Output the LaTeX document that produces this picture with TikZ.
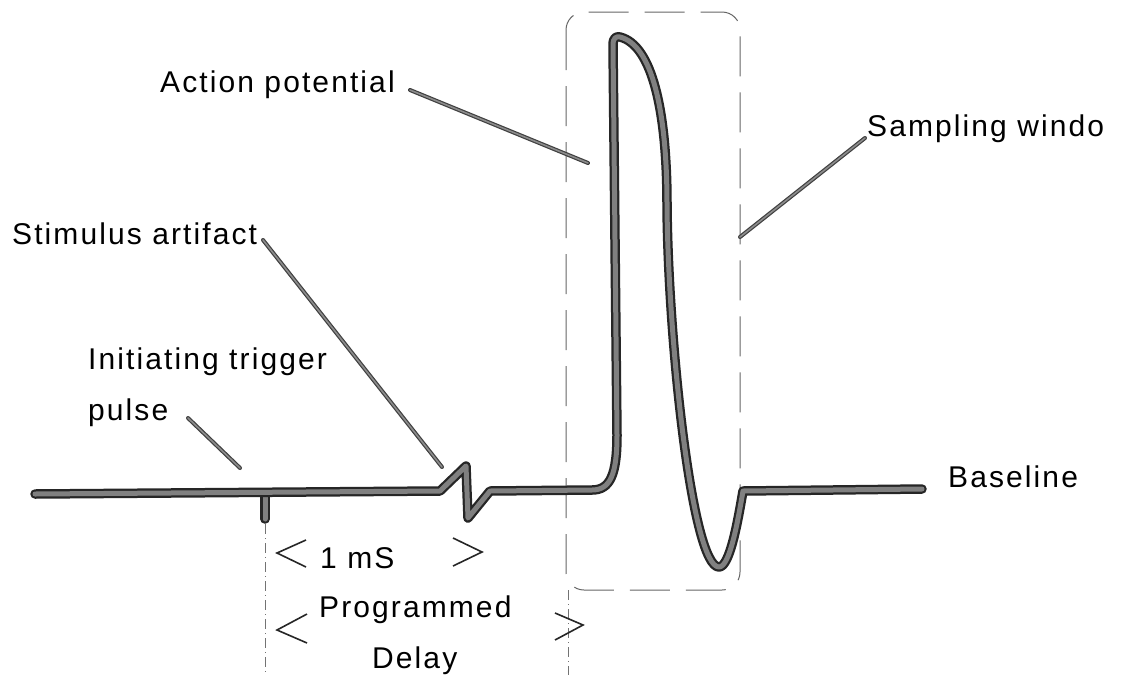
\documentclass[tikz,border=0pt]{standalone}
\usepackage{fontspec}
\setmainfont[LetterSpace=7]{Liberation Sans}
\begin{document}
\begin{tikzpicture}[x=1pt,y=-1pt,
  trace/.style={line width=9.5pt, draw=black!85, line cap=round, line join=round,
    postaction={draw=black!50, line width=5pt}},
  leader/.style={line width=4pt, draw=black!75, line cap=round,
    postaction={draw=black!45, line width=1.6pt}},
  chev/.style={line width=1.6pt, draw=black!85},
  win/.style={draw=black!60, line width=1pt, dash pattern=on 40pt off 16pt, rounded corners=18pt},
  guide/.style={draw=black!55, line width=0.8pt, dash pattern=on 10pt off 4pt on 1pt off 4pt},
  lbl/.style={inner sep=0pt, anchor=base west, text=black, font=\fontsize{30}{35}\selectfont}]
\useasboundingbox[fill=white] (0,0) rectangle (1122,675);

% sampling window and guide lines
\draw[win] (566,12) rectangle (740,590);
\draw[guide] (265,524) -- (265,675);
\draw[guide] (568,590) -- (568,675);

% trace
\draw[trace] (265,494) -- (265,519);
\draw[trace] (35,494) -- (440,491) -- (466,466) -- (468,518) -- (490,491) -- (592,490)
  .. controls (610,490) and (617,475) .. (617,435) -- (613,45)
  .. controls (613,38) and (616,36) .. (620,37)
  .. controls (652,45) and (667,110) .. (667,205)
  .. controls (668,340) and (692,567) .. (719,567)
  .. controls (730,567) and (738,520) .. (743,491) -- (922,489);

% labels
\node[lbl] (ap) at (160,92) {Action potential};
\node[lbl] (sw) at (867,136) {Sampling windo};
\node[lbl] (sa) at (12,244) {Stimulus artifact};
\node[lbl] (it) at (88,369) {Initiating trigger};
\node[lbl] (pu) at (88,420) {pulse};
\node[lbl] (bl) at (948,487) {Baseline};
\node[lbl] (ms) at (320,568) {1 mS};
\node[lbl] (pg) at (319,617) {Programmed};
\node[lbl] (dl) at (372,668) {Delay};

% leader lines
\coordinate (apA) at (410,90);  \coordinate (apB) at (588,163);
\coordinate (swA) at (865,138); \coordinate (swB) at (740,237);
\coordinate (saA) at (263,240); \coordinate (saB) at (442,467);
\coordinate (puA) at (188,418); \coordinate (puB) at (240,468);
\draw[leader] (apA) -- (apB);
\draw[leader] (swA) -- (swB);
\draw[leader] (saA) -- (saB);
\draw[leader] (puA) -- (puB);

% chevrons
\draw[chev] (306,540) -- (277,553) -- (306,567);
\draw[chev] (453,538) -- (482,552) -- (453,566);
\draw[chev] (307,614) -- (277,630) -- (307,643);
\draw[chev] (555,613) -- (583,625) -- (555,640);
\end{tikzpicture}
\end{document}
